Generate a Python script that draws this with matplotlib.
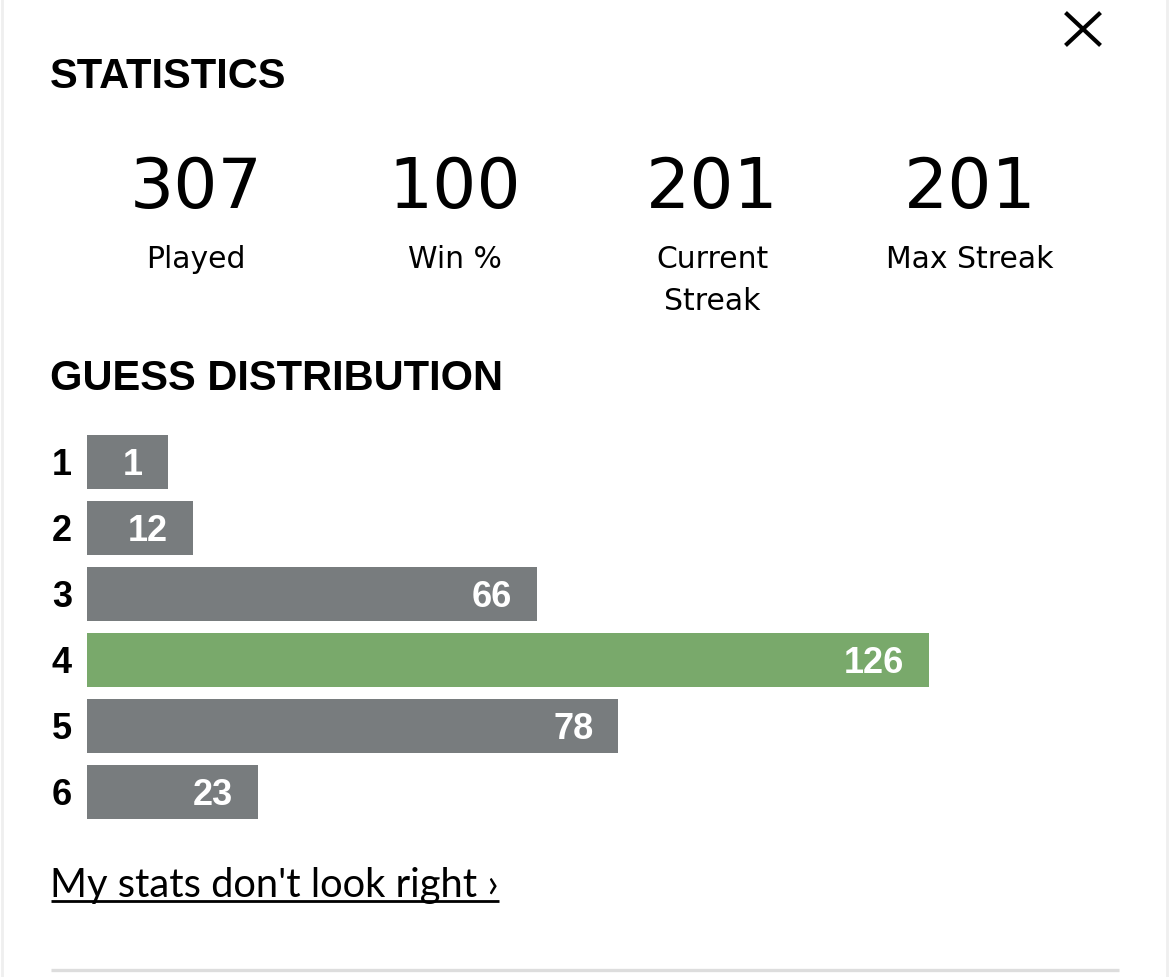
import matplotlib
matplotlib.use("Agg")
import matplotlib.pyplot as plt
from matplotlib.lines import Line2D

guesses = ["1", "2", "3", "4", "5", "6"]
counts = [1, 12, 66, 126, 78, 23]
# length of each bar as drawn, in percent of the longest bar
bar_percent = [9.6, 12.6, 53.4, 100, 63.1, 20.3]
bar_colors = ["#787c7e", "#787c7e", "#787c7e", "#79a96b", "#787c7e", "#787c7e"]
stat_values = ["307", "100", "201", "201"]
stat_labels = ["Played", "Win %", "Current\nStreak", "Max Streak"]
stat_x = [196, 455, 712, 970]

W, H = 1170, 978
fig = plt.figure(figsize=(W / 100, H / 100), dpi=100)
plt.rcParams['font.family'] = ['Open Sans', 'DejaVu Sans']
bg = fig.add_axes([0, 0, 1, 1])
bg.set_xlim(0, W); bg.set_ylim(H, 0); bg.axis("off")

bg.add_line(Line2D([2, 2], [0, H], color="#efefef", lw=2))
bg.add_line(Line2D([1167, 1167], [0, H], color="#efefef", lw=2))
bg.add_line(Line2D([51, 1119], [970.5, 970.5], color="#dddddd", lw=2.4, solid_capstyle="butt"))
bg.add_line(Line2D([1067, 1099], [15, 45], color="black", lw=3))
bg.add_line(Line2D([1099, 1067], [15, 45], color="black", lw=3))

bg.text(50, 72, "STATISTICS", fontsize=30, fontweight="bold", va="center_baseline", ha="left", family="Liberation Sans")
bg.text(50, 375, "GUESS DISTRIBUTION", fontsize=30, fontweight="bold", va="center_baseline", ha="left", family="Liberation Sans")

for x, v, l in zip(stat_x, stat_values, stat_labels):
    bg.text(x, 181.5, v, fontsize=50, va="center_baseline", ha="center", family="DejaVu Sans")
    parts = l.split("\n")
    for i, part in enumerate(parts):
        bg.text(x, 256.5 + 42 * i, part, fontsize=21.5, va="center_baseline", ha="center", family="DejaVu Sans")

bg.text(50, 882, "My stats don't look right ›", fontsize=28.7, va="center_baseline", ha="left", family="Lato")
bg.add_line(Line2D([51, 499], [901.5, 901.5], color="black", lw=2, solid_capstyle="butt"))

ax = fig.add_axes([87 / W, 1 - 825.5 / H, (929 - 87) / W, (825.5 - 429.5) / H])
ax.set_xlim(0, 100)
ax.set_ylim(5.5, -0.5)
ax.axis("off")
ax.patch.set_alpha(0)
ys = list(range(len(counts)))
ax.barh(ys, bar_percent, height=54 / 66, color=bar_colors)
for y, g, c, w in zip(ys, guesses, counts, bar_percent):
    ax.annotate(str(c), (w, y), xytext=(-25, 1), textcoords="offset pixels", color="white",
                fontsize=26, fontweight="bold", ha="right", va="center_baseline", family="Liberation Sans")
    ax.annotate(g, (0, y), xytext=(-25, 1), textcoords="offset pixels", color="black",
                fontsize=26, fontweight="bold", ha="center", va="center_baseline", family="Liberation Sans")

fig.savefig("out.png", dpi=100, facecolor="white")
